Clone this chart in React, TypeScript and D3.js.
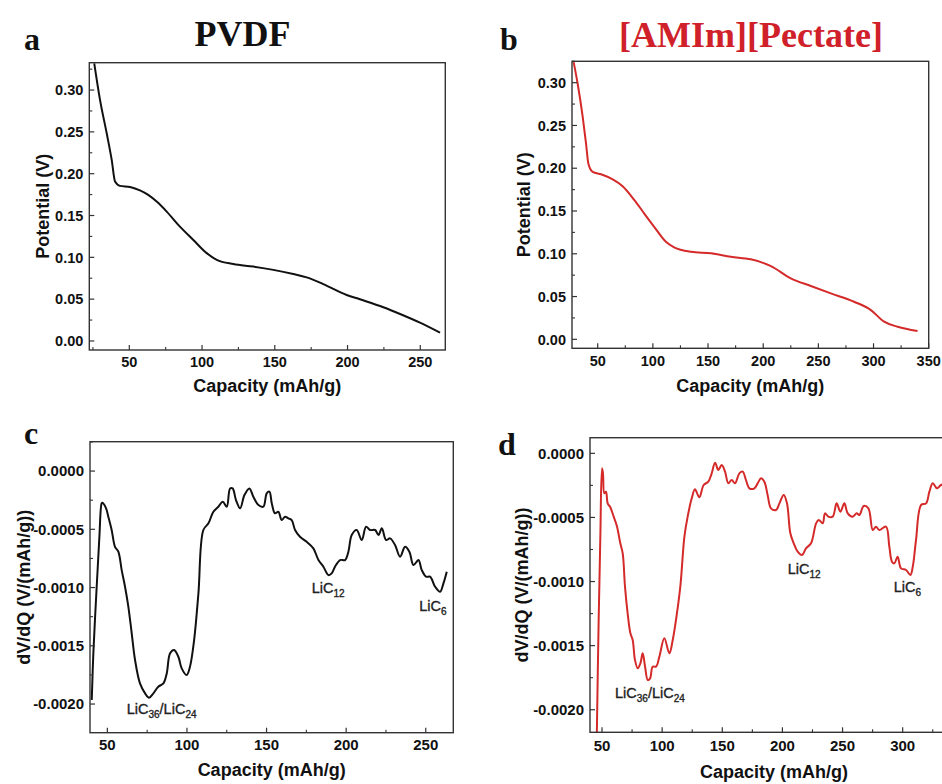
import React from 'react';
import * as d3 from 'd3';

// ---------- data ----------
const capA = [25.9, 29.9, 34.5, 37.9, 40.2, 43.6, 50.5, 57.3, 63.0, 68.8, 75.7, 84.8, 94.0, 103.2, 110.1, 121.5, 135.2, 149, 162.7, 171.9, 183.3, 199.4, 208.5, 224.6, 236.1, 249.8, 263.6];
const potA = [0.332, 0.288, 0.248, 0.2165, 0.1906, 0.1854, 0.184, 0.18, 0.1746, 0.1666, 0.1547, 0.1367, 0.1208, 0.105, 0.097, 0.092, 0.0889, 0.085, 0.08, 0.076, 0.068, 0.055, 0.0498, 0.0403, 0.0323, 0.0219, 0.0099];

const capB = [28.2, 31.8, 36.4, 39.4, 41.5, 45.4, 53.0, 63.6, 72.6, 83.1, 92.2, 101.2, 111.8, 119.3, 134.5, 152.6, 170.7, 188.8, 207, 225, 243.2, 261.3, 282.4, 297.6, 309.6, 321.8, 339.9];
const potB = [0.324, 0.299, 0.26, 0.229, 0.2056, 0.1958, 0.193, 0.187, 0.179, 0.163, 0.147, 0.1315, 0.114, 0.1075, 0.1023, 0.1005, 0.0965, 0.0935, 0.0856, 0.0713, 0.0623, 0.0537, 0.0439, 0.0342, 0.0206, 0.0147, 0.0097];

const capC = [40.2, 41.2, 43.3, 45.0, 46.4, 46.9, 49.2, 50.6, 52.7, 54.8, 56.9, 59.0, 61.1, 63.2, 65.3, 67.4, 70.5, 73.7, 76.2, 78.9, 82.0, 85.2, 87.3, 89.4, 91.9, 94.6, 96.7, 99.8, 101.9, 104.5, 107.2, 110.3, 113.5, 116.6, 119.7, 122.5, 125.0, 127.1, 128.7, 130.8, 133.4, 136.1, 139.2, 141.7, 144.9, 148.0, 150.1, 151.8, 153.3, 155.3, 157.4, 159.5, 161.6, 163.7, 165.8, 167.9, 171.0, 175.2, 179.4, 182.6, 185.7, 188.9, 190.9, 193.0, 196.2, 199.3, 201.4, 203.5, 206.6, 209.8, 212.5, 215.0, 218.2, 220.3, 222.4, 225.1, 227.6, 230.7, 233.9, 237.0, 239.7, 242.3, 245.4, 247.5, 250.2, 252.7, 255.9, 259.0, 261.1, 263.2];
const dvdqC = [-1.966e-3, -1.565e-3, -0.993e-3, -0.564e-3, -0.278e-3, -0.272e-3, -0.32e-3, -0.392e-3, -0.506e-3, -0.65e-3, -0.692e-3, -0.85e-3, -0.993e-3, -1.165e-3, -1.393e-3, -1.622e-3, -1.823e-3, -1.908e-3, -1.946e-3, -1.908e-3, -1.851e-3, -1.823e-3, -1.737e-3, -1.565e-3, -1.537e-3, -1.594e-3, -1.694e-3, -1.751e-3, -1.68e-3, -1.451e-3, -1.05e-3, -0.506e-3, -0.449e-3, -0.349e-3, -0.306e-3, -0.263e-3, -0.306e-3, -0.149e-3, -0.149e-3, -0.249e-3, -0.32e-3, -0.206e-3, -0.149e-3, -0.22e-3, -0.292e-3, -0.306e-3, -0.192e-3, -0.177e-3, -0.278e-3, -0.363e-3, -0.349e-3, -0.421e-3, -0.392e-3, -0.406e-3, -0.421e-3, -0.506e-3, -0.564e-3, -0.607e-3, -0.664e-3, -0.764e-3, -0.821e-3, -0.893e-3, -0.878e-3, -0.821e-3, -0.764e-3, -0.764e-3, -0.692e-3, -0.549e-3, -0.506e-3, -0.592e-3, -0.478e-3, -0.506e-3, -0.506e-3, -0.549e-3, -0.492e-3, -0.592e-3, -0.578e-3, -0.635e-3, -0.735e-3, -0.65e-3, -0.692e-3, -0.807e-3, -0.764e-3, -0.85e-3, -0.907e-3, -0.907e-3, -0.993e-3, -1.036e-3, -0.964e-3, -0.864e-3];

const capD = [45.5, 47.2, 48.6, 50.0, 50.8, 51.9, 53.3, 54.7, 56.9, 59.7, 62.5, 65.2, 67.2, 69.1, 71.3, 73.6, 75.5, 77.4, 79.7, 81.9, 83.8, 85.8, 88.0, 90.0, 92.1, 94.9, 97.7, 101.8, 106.0, 108.8, 111.5, 115.1, 118.5, 121.2, 124.6, 127.3, 130.9, 134.5, 138.4, 141.2, 144.0, 146.7, 149.5, 152.3, 155.0, 157.8, 160.6, 164.2, 167.0, 169.7, 172.5, 176.7, 179.4, 182.2, 185.0, 187.7, 190.5, 194.7, 197.5, 201.1, 203.8, 206.6, 209.4, 212.7, 216.3, 219.6, 223.8, 228.0, 230.2, 233.5, 235.4, 238.2, 241.8, 245.1, 248.2, 251.5, 254.3, 258.4, 261.8, 264.0, 267.6, 271.5, 275.1, 277.8, 280.6, 286.1, 288.9, 291.1, 293.1, 295.8, 298.6, 302.8, 306.4, 308.4, 311.1, 315.3, 319.5, 322.2, 325.0, 328.6, 331.9, 340];
const dvdqD = [-2.3e-3, -1.3e-3, -0.65e-3, -0.117e-3, -0.156e-3, -0.312e-3, -0.299e-3, -0.39e-3, -0.421e-3, -0.494e-3, -0.572e-3, -0.702e-3, -0.78e-3, -1.04e-3, -1.248e-3, -1.404e-3, -1.456e-3, -1.612e-3, -1.677e-3, -1.638e-3, -1.56e-3, -1.664e-3, -1.768e-3, -1.755e-3, -1.664e-3, -1.664e-3, -1.586e-3, -1.443e-3, -1.56e-3, -1.456e-3, -1.3e-3, -1.04e-3, -0.65e-3, -0.494e-3, -0.351e-3, -0.281e-3, -0.343e-3, -0.247e-3, -0.221e-3, -0.156e-3, -0.073e-3, -0.13e-3, -0.091e-3, -0.143e-3, -0.234e-3, -0.208e-3, -0.234e-3, -0.156e-3, -0.143e-3, -0.208e-3, -0.273e-3, -0.273e-3, -0.234e-3, -0.195e-3, -0.221e-3, -0.325e-3, -0.429e-3, -0.442e-3, -0.39e-3, -0.325e-3, -0.39e-3, -0.624e-3, -0.702e-3, -0.767e-3, -0.793e-3, -0.741e-3, -0.702e-3, -0.546e-3, -0.52e-3, -0.546e-3, -0.468e-3, -0.494e-3, -0.494e-3, -0.39e-3, -0.455e-3, -0.39e-3, -0.468e-3, -0.494e-3, -0.468e-3, -0.481e-3, -0.411e-3, -0.429e-3, -0.598e-3, -0.572e-3, -0.598e-3, -0.572e-3, -0.728e-3, -0.845e-3, -0.858e-3, -0.806e-3, -0.897e-3, -0.91e-3, -0.949e-3, -0.884e-3, -0.676e-3, -0.403e-3, -0.39e-3, -0.299e-3, -0.234e-3, -0.273e-3, -0.247e-3, -0.23e-3];

const xTicksA = [50, 100, 150, 200, 250];
const xTicksB = [50, 100, 150, 200, 250, 300, 350];
const xTicksC = [50, 100, 150, 200, 250];
const xTicksD = [50, 100, 150, 200, 250, 300];
const yTicksP = [0, 0.05, 0.1, 0.15, 0.2, 0.25, 0.3];
const yTicksQ = [0, -0.0005, -0.001, -0.0015, -0.002];

// ---------- styles ----------
const SANS = "'Liberation Sans', Arial, Helvetica, sans-serif";
const SERIF = "'Liberation Serif', 'Times New Roman', Times, serif";
const BLACK = '#111111';
const RED = '#d42a2a';
const FRAME = '#333333';

const fmtP = (v: number) => v.toFixed(2);
const fmtQ = (v: number) => (v < -1e-12 ? '-' : '') + Math.abs(v).toFixed(4);

type Ann = { x: number; y: number; main: string; sub: string; main2?: string; sub2?: string };

type PanelProps = {
  id: string;
  left: number; top: number; right: number; bottom: number;
  xDomain: [number, number]; yDomain: [number, number];
  xTicks: number[]; yTicks: number[];
  yFmt: (v: number) => string;
  xs: number[]; ys: number[];
  color: string;
  smooth: boolean;
  yTitle: string; yTitleX: number;
  xTitleY: number; xLabelY: number;
  tickFont: number;
  anns: Ann[];
};

function minorTicks(ticks: number[], domain: [number, number]) {
  const step = Math.abs(ticks[1] - ticks[0]) / 2;
  const lo = Math.min(domain[0], domain[1]);
  const hi = Math.max(domain[0], domain[1]);
  const out: number[] = [];
  const start = Math.ceil(lo / step - 1e-9);
  for (let k = start; k * step <= hi + 1e-12; k++) {
    const v = k * step;
    if (!ticks.some((t) => Math.abs(t - v) < step * 1e-3)) out.push(v);
  }
  return out;
}

function Panel(p: PanelProps) {
  const x = d3.scaleLinear().domain(p.xDomain).range([p.left, p.right]);
  const y = d3.scaleLinear().domain(p.yDomain).range([p.bottom, p.top]);
  const pts: [number, number][] = p.xs.map((v, i) => [v, p.ys[i]]);
  const line = d3
    .line<[number, number]>()
    .x((d) => x(d[0]))
    .y((d) => y(d[1]))
    .curve(p.smooth ? d3.curveCatmullRom.alpha(0.5) : d3.curveMonotoneX);
  const xMinor = minorTicks(p.xTicks, p.xDomain);
  const yMinor = minorTicks(p.yTicks, p.yDomain);
  const MAJ = 5;
  const MIN = 3;
  const cx = (p.left + p.right) / 2;
  const cy = (p.top + p.bottom) / 2;
  return (
    <g>
      <defs>
        <clipPath id={`clip-${p.id}`}>
          <rect x={p.left} y={p.top} width={p.right - p.left} height={p.bottom - p.top} />
        </clipPath>
      </defs>
      <path d={line(pts) || ''} fill="none" stroke={p.color} strokeWidth={2} strokeLinejoin="round" clipPath={`url(#clip-${p.id})`} />
      <rect x={p.left} y={p.top} width={p.right - p.left} height={p.bottom - p.top} fill="none" stroke={FRAME} strokeWidth={1.4} />
      {p.xTicks.map((t) => (
        <g key={`xt${t}`}>
          <line x1={x(t)} x2={x(t)} y1={p.bottom} y2={p.bottom - MAJ} stroke={FRAME} strokeWidth={1.2} />
          <text x={x(t)} y={p.xLabelY} textAnchor="middle" fontFamily={SANS} fontWeight="bold" fontSize={p.tickFont} fill="#111">{t}</text>
        </g>
      ))}
      {xMinor.map((t) => (
        <line key={`xm${t}`} x1={x(t)} x2={x(t)} y1={p.bottom} y2={p.bottom - MIN} stroke={FRAME} strokeWidth={1.1} />
      ))}
      {p.yTicks.map((t) => (
        <g key={`yt${t}`}>
          <line x1={p.left} x2={p.left + MAJ} y1={y(t)} y2={y(t)} stroke={FRAME} strokeWidth={1.2} />
          <text x={p.left - 6} y={y(t)} dy="0.36em" textAnchor="end" fontFamily={SANS} fontWeight="bold" fontSize={p.tickFont} fill="#111">{p.yFmt(t)}</text>
        </g>
      ))}
      {yMinor.map((t) => (
        <line key={`ym${t}`} x1={p.left} x2={p.left + MIN} y1={y(t)} y2={y(t)} stroke={FRAME} strokeWidth={1.1} />
      ))}
      <text x={cx} y={p.xTitleY} textAnchor="middle" fontFamily={SANS} fontWeight="bold" fontSize={18} fill="#111">Capacity (mAh/g)</text>
      <text transform={`translate(${p.yTitleX},${cy}) rotate(-90)`} textAnchor="middle" fontFamily={SANS} fontWeight="bold" fontSize={18} fill="#111">{p.yTitle}</text>
      {p.anns.map((a, i) => (
        <text key={`an${i}`} x={a.x} y={a.y} fontFamily={SANS} fontSize={14.5} fill="#222" stroke="#222" strokeWidth={0.35}>
          {a.main}
          <tspan fontSize={10} dy={4}>{a.sub}</tspan>
          {a.main2 ? <tspan dy={-4}>{a.main2}</tspan> : null}
          {a.sub2 ? <tspan fontSize={10} dy={4}>{a.sub2}</tspan> : null}
        </text>
      ))}
    </g>
  );
}

export default function App() {
  return (
    <svg width={942} height={784} viewBox="0 0 942 784" style={{ position: 'absolute', left: 0, top: 0, background: '#fff' }}>
      <rect x={0} y={0} width={942} height={784} fill="#fff" />
      {/* panel letters and titles */}
      <text x={24} y={50} fontFamily={SERIF} fontWeight="bold" fontSize={32} fill="#111">a</text>
      <text x={242.5} y={46} textAnchor="middle" fontFamily={SERIF} fontWeight="bold" fontSize={36} fill="#111">PVDF</text>
      <text x={500} y={50} fontFamily={SERIF} fontWeight="bold" fontSize={32} fill="#111">b</text>
      <text x={751} y={46.5} textAnchor="middle" fontFamily={SERIF} fontWeight="bold" fontSize={36} fill="#d0202a">[AMIm][Pectate]</text>
      <text x={24} y={444} fontFamily={SERIF} fontWeight="bold" fontSize={32} fill="#111">c</text>
      <text x={498} y={455} fontFamily={SERIF} fontWeight="bold" fontSize={32} fill="#111">d</text>

      <Panel id="a" left={89.3} top={62.7} right={445.3} bottom={350}
        xDomain={[22.5, 267.2]} yDomain={[-0.0108, 0.3327]}
        xTicks={xTicksA} yTicks={yTicksP} yFmt={fmtP}
        xs={capA} ys={potA} color={BLACK} smooth={false}
        yTitle="Potential (V)" yTitleX={49} xTitleY={392} xLabelY={367} tickFont={14.5} anns={[]} />

      <Panel id="b" left={572} top={61.3} right={928.7} bottom={348.3}
        xDomain={[26.7, 350]} yDomain={[-0.0105, 0.325]}
        xTicks={xTicksB} yTicks={yTicksP} yFmt={fmtP}
        xs={capB} ys={potB} color={RED} smooth={false}
        yTitle="Potential (V)" yTitleX={530} xTitleY={392} xLabelY={366} tickFont={14.5} anns={[]} />

      <Panel id="c" left={90} top={441.7} right={453.3} bottom={732.7}
        xDomain={[39.1, 267.3]} yDomain={[-0.002246, 0.000252]}
        xTicks={xTicksC} yTicks={yTicksQ} yFmt={fmtQ}
        xs={capC} ys={dvdqC} color={BLACK} smooth={true}
        yTitle="dV/dQ (V/(mAh/g))" yTitleX={30} xTitleY={776} xLabelY={750} tickFont={15}
        anns={[
          { x: 126.7, y: 714, main: 'LiC', sub: '36', main2: '/LiC', sub2: '24' },
          { x: 311.7, y: 593, main: 'LiC', sub: '12' },
          { x: 419.3, y: 611, main: 'LiC', sub: '6' },
        ]} />

      <Panel id="d" left={590} top={437.7} right={958} bottom={732.3}
        xDomain={[40, 346]} yDomain={[-0.002176, 0.000122]}
        xTicks={xTicksD} yTicks={yTicksQ} yFmt={fmtQ}
        xs={capD} ys={dvdqD} color={RED} smooth={true}
        yTitle="dV/dQ (V/(mAh/g))" yTitleX={528} xTitleY={778} xLabelY={751} tickFont={15}
        anns={[
          { x: 615, y: 698, main: 'LiC', sub: '36', main2: '/LiC', sub2: '24' },
          { x: 787.7, y: 574, main: 'LiC', sub: '12' },
          { x: 893.7, y: 592, main: 'LiC', sub: '6' },
        ]} />
    </svg>
  );
}
